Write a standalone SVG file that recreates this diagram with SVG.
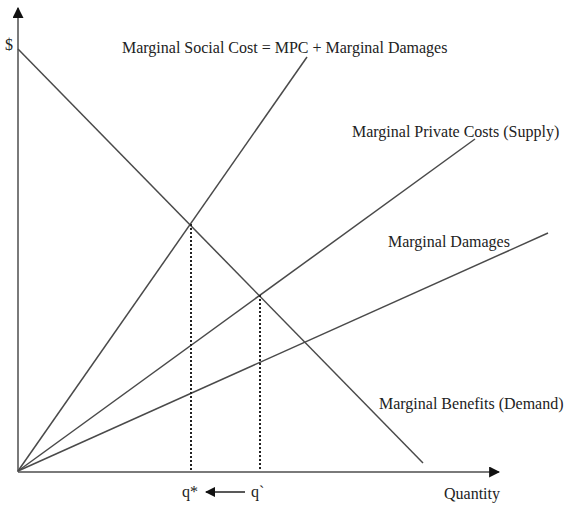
<svg xmlns="http://www.w3.org/2000/svg" width="567" height="506" viewBox="0 0 567 506">
<style>
.ln{stroke:#4a4a4a;stroke-width:1.5;fill:none}
.ax{stroke:#7a7a7a;stroke-width:2;fill:none}
.dt{stroke:#222;stroke-width:2;stroke-dasharray:2,2;fill:none}
text{font-family:"Liberation Serif","Times New Roman",serif;fill:#222;font-size:16px}
</style>
<defs>
<marker id="ah" viewBox="0 0 10 10" refX="9" refY="5" markerWidth="5.5" markerHeight="5.5" orient="auto" markerUnits="strokeWidth">
<path d="M0,0 L10,5 L0,10 z" fill="#111"/>
</marker>
<marker id="ah2" viewBox="0 0 10 10" refX="9" refY="5" markerWidth="7" markerHeight="7" orient="auto" markerUnits="strokeWidth">
<path d="M0,0 L10,5 L0,10 z" fill="#111"/>
</marker>
</defs>
<g id="connectors">
<line id="y-axis" class="ax" x1="18" y1="472" x2="18" y2="8" marker-end="url(#ah)"/>
<line id="x-axis" class="ax" x1="18" y1="472" x2="499" y2="472" marker-end="url(#ah)"/>
<line id="demand" class="ln" x1="18" y1="49" x2="423" y2="463"/>
<line id="msc" class="ln" x1="18" y1="471" x2="307" y2="57"/>
<line id="mpc" class="ln" x1="18" y1="471" x2="475" y2="139"/>
<line id="md" class="ln" x1="18" y1="471" x2="548" y2="233"/>
<line id="drop-qstar" class="dt" x1="191" y1="224" x2="191" y2="471"/>
<line id="drop-qprime" class="dt" x1="260" y1="295" x2="260" y2="471"/>
<line id="q-arrow" stroke="#222" stroke-width="1.5" x1="245" y1="492" x2="206" y2="492" marker-end="url(#ah2)"/>
</g>
<g id="label-dollar"><text x="5" y="50">$</text></g>
<g id="label-msc"><text x="122" y="53">Marginal Social Cost = MPC + Marginal Damages</text></g>
<g id="label-mpc"><text x="352" y="137">Marginal Private Costs (Supply)</text></g>
<g id="label-md"><text x="388" y="247">Marginal Damages</text></g>
<g id="label-mb"><text x="379" y="409">Marginal Benefits (Demand)</text></g>
<g id="label-qstar"><text x="182" y="497">q*</text></g>
<g id="label-qprime"><text x="251" y="497">q`</text></g>
<g id="label-quantity"><text x="444" y="499" font-size="15">Quantity</text></g>
</svg>
